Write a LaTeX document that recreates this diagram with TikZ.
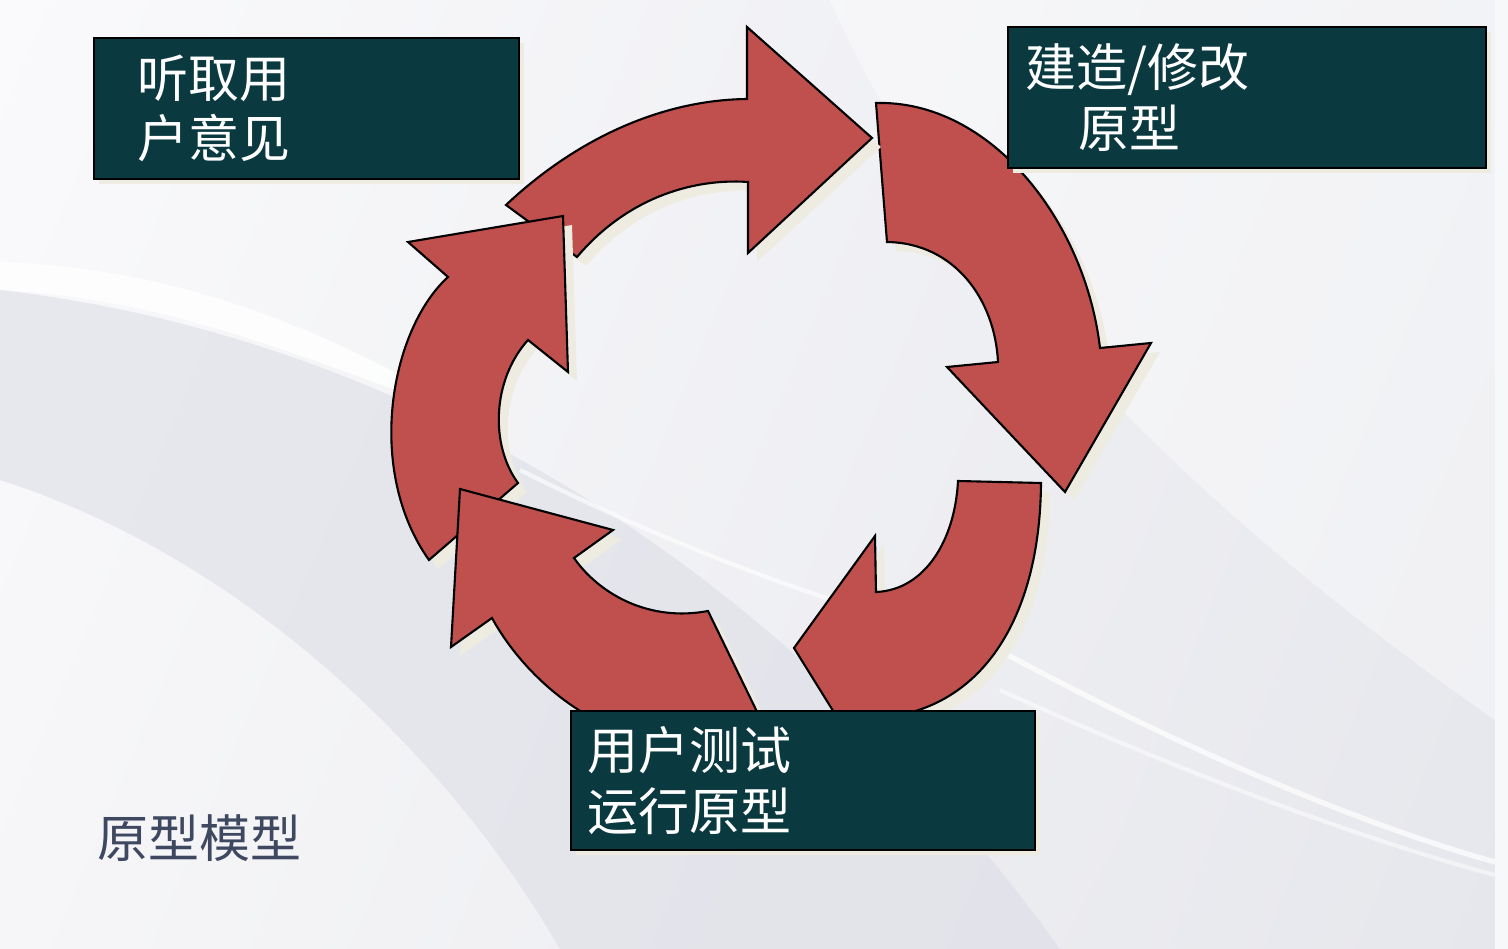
\documentclass[tikz,border=0pt]{standalone}
\usepackage{fontspec}
\newfontfamily\cjk{Noto Sans CJK SC}
\usepackage{tikz}
\usetikzlibrary{positioning}
\usetikzlibrary{shadings}
\usepackage{xcolor}
\definecolor{arrowred}{RGB}{192,80,77}
\definecolor{shadowcream}{RGB}{238,236,225}
\definecolor{boxteal}{RGB}{10,58,64}
\definecolor{titlegray}{RGB}{62,72,96}
\definecolor{bgul}{RGB}{250,250,252}
\definecolor{bgur}{RGB}{234,235,240}
\definecolor{bgll}{RGB}{246,246,248}
\definecolor{bglr}{RGB}{230,231,236}
\definecolor{bgdark}{RGB}{220,222,230}
\definecolor{stripwhite}{RGB}{247,248,250}

\tikzset{
  cyclearrow/.style={fill=arrowred, draw=black, line width=0.6pt,
    preaction={fill=shadowcream, draw=none, transform canvas={xshift=0.9mm, yshift=-0.9mm}}},
  stepbox/.style={fill=boxteal, draw=black, line width=0.6pt, anchor=north west, inner sep=0pt,
    preaction={fill=shadowcream, draw=none, transform canvas={xshift=0.5mm, yshift=-0.5mm}}},
  boxtext/.style={text=white, font=\cjk\fontsize{14.5}{17.1}\selectfont, align=left, inner sep=0pt},
}

\begin{document}
\begin{tikzpicture}[x=0.01cm, y=-0.01cm]
	\useasboundingbox (0,0) rectangle (1508,949);
	
	% background
	\shade[upper left=bgul, upper right=bgur, lower left=bgll, lower right=bglr] (0,0) rectangle (1495,949);
	\fill[bgdark, opacity=0.6] (0,290) .. controls (350,330) and (750,520) .. (1060,949) -- (560,949) .. controls (450,760) and (250,560) .. (0,480) -- cycle;
	\fill[white, opacity=0.8] (0,262) .. controls (180,268) and (330,330) .. (480,420) .. controls (330,370) and (180,298) .. (0,290) -- cycle;
	\fill[white, opacity=0.4] (830,0) .. controls (930,230) and (1150,480) .. (1495,720) -- (1495,0) -- cycle;
	\draw[white, line width=1.2pt, opacity=0.6] (520,470) .. controls (700,560) and (850,610) .. (1000,650);
	\draw[white, line width=1.5pt, opacity=0.7] (980,640) .. controls (1200,760) and (1380,830) .. (1495,862);
	\draw[white, line width=1.2pt, opacity=0.5] (1000,690) .. controls (1220,790) and (1400,850) .. (1495,875);
	\fill[stripwhite] (1495,0) rectangle (1508,949);
	
	% the five arrows of the cycle
	\draw[cyclearrow] (1041,483) .. controls (1040,620) and (980,712) .. (876,718) -- (840,722) -- (794,648) -- (875,536) -- (876,592) .. controls (925,590) and (955,540) .. (958,481) -- cycle;
	\draw[cyclearrow] (876,103) .. controls (990,100) and (1085,220) .. (1100,348) -- (1151,343) -- (1065,492) -- (947,367) -- (998,362) .. controls (995,300) and (955,243) .. (887,242) -- cycle;
	\draw[cyclearrow] (506,205) .. controls (575,140) and (660,100) .. (747,99) -- (747,27) -- (872,138) -- (748,253) -- (748,182) .. controls (690,178) and (625,200) .. (577,257) -- cycle;
	\draw[cyclearrow] (429,560) .. controls (365,470) and (390,330) .. (448,277) -- (408,242) -- (563,216) -- (568,372) -- (528,340) .. controls (492,380) and (490,445) .. (518,483) -- cycle;
	\draw[cyclearrow] (460,489) -- (613,530) -- (574,558) .. controls (600,595) and (650,622) .. (708,611) -- (762,722) -- (600,722) .. controls (555,700) and (515,660) .. (492,618) -- (451,647) -- cycle;
	
	% boxes
	\node[stepbox, minimum width=4.25cm, minimum height=1.41cm] (listen) at (93,37) {};
	\node[boxtext, right=0.44cm of listen.west] (listentext) {听取用\\户意见};
	
	\node[stepbox, minimum width=4.78cm, minimum height=1.41cm] (build) at (1007,26) {};
	\node[boxtext, right=0.18cm of build.west] (buildtext) {建造/修改\\\hspace*{0.53cm}原型};
	
	\node[stepbox, minimum width=4.64cm, minimum height=1.39cm] (test) at (570,710) {};
	\node[boxtext, right=0.17cm of test.west] (testtext) {用户测试\\运行原型};
	
	\node[anchor=west, inner sep=0pt, text=titlegray, font=\cjk\fontsize{14.5}{17}\selectfont] (title) at (97,838) {原型模型};
	
\end{tikzpicture}
\end{document}
